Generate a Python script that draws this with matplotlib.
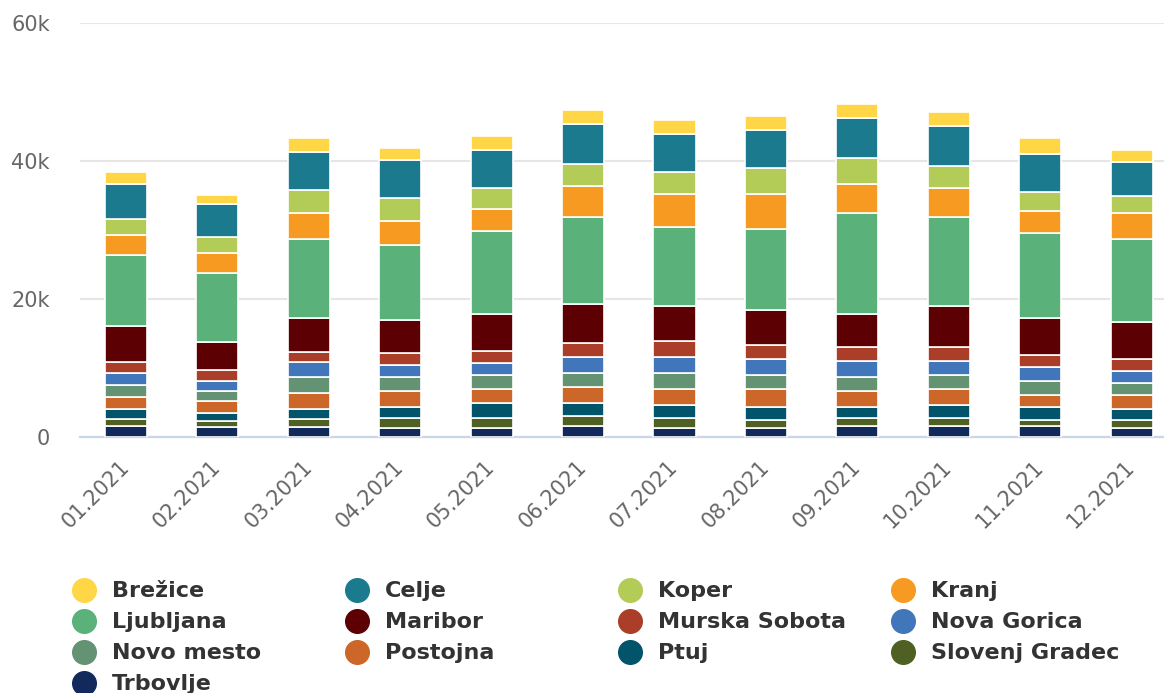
import numpy as np
import matplotlib
matplotlib.use('Agg')
import matplotlib.pyplot as plt
import matplotlib.transforms as mtransforms

# months on the x axis
months = ['01.2021', '02.2021', '03.2021', '04.2021', '05.2021', '06.2021',
          '07.2021', '08.2021', '09.2021', '10.2021', '11.2021', '12.2021']

# series values, stacked bottom -> top
trbovlje = [1600, 1360, 1360, 1310, 1310, 1600, 1310, 1310, 1600, 1600, 1600, 1310]
slovenj_gradec = [930, 880, 1170, 1450, 1450, 1450, 1450, 1160, 1160, 1160, 870, 1160]
ptuj = [1450, 1160, 1450, 1510, 2090, 1800, 1800, 1800, 1510, 1800, 1800, 1510]
postojna = [1750, 1750, 2330, 2330, 2040, 2330, 2330, 2620, 2330, 2330, 1750, 2040]
novo_mesto = [1740, 1450, 2370, 2080, 2080, 2090, 2380, 2080, 2080, 2080, 2080, 1790]
nova_gorica = [1800, 1500, 2080, 1750, 1750, 2320, 2320, 2330, 2330, 2040, 2040, 1750]
murska_sobota = [1490, 1500, 1510, 1740, 1750, 2040, 2330, 2040, 2040, 2040, 1740, 1740]
maribor = [5240, 4130, 4950, 4760, 5330, 5630, 5050, 5040, 4750, 5920, 5340, 5340]
ljubljana = [10330, 9940, 11490, 10850, 12020, 12590, 11430, 11730, 14640, 12880, 12310, 12010]
kranj = [2970, 2950, 3780, 3490, 3200, 4420, 4710, 5000, 4130, 4130, 3200, 3790]
koper = [2320, 2380, 3250, 3300, 3010, 3250, 3200, 3830, 3820, 3200, 2670, 2380]
celje = [4950, 4660, 5570, 5530, 5530, 5860, 5620, 5570, 5860, 5910, 5570, 4990]
brezice = [1790, 1440, 2040, 1750, 2030, 2040, 2030, 2040, 2040, 2040, 2330, 1750]

stack = [
    ('Trbovlje', trbovlje, '#112a5b'),
    ('Slovenj Gradec', slovenj_gradec, '#4e6123'),
    ('Ptuj', ptuj, '#02546a'),
    ('Postojna', postojna, '#cc6629'),
    ('Novo mesto', novo_mesto, '#639373'),
    ('Nova Gorica', nova_gorica, '#4176bb'),
    ('Murska Sobota', murska_sobota, '#aa3e28'),
    ('Maribor', maribor, '#5c0004'),
    ('Ljubljana', ljubljana, '#5ab179'),
    ('Kranj', kranj, '#f69a21'),
    ('Koper', koper, '#b2cc57'),
    ('Celje', celje, '#1b7a8e'),
    ('Brežice', brezice, '#ffd645'),
]

W, H = 1164, 693
fig = plt.figure(figsize=(W / 100, H / 100), dpi=100)
ax = fig.add_axes([0.069, 0.3698, 0.9424, 0.5974])

x = np.arange(len(months))
bottom = np.zeros(len(months))
for name, vals, col in stack:
    ax.bar(x, vals, width=0.46, bottom=bottom, color=col,
           edgecolor='white', linewidth=1.2, zorder=3)
    bottom += np.array(vals)

ax.set_xlim(-0.5, len(months) - 0.5)
ax.set_ylim(0, 60000)
ax.set_yticks([0, 20000, 40000, 60000])
ax.set_yticklabels(['0', '20k', '40k', '60k'])
ax.yaxis.grid(True, color='#e6e6e6', linewidth=1.5, zorder=0)
ax.set_axisbelow(True)
for s in ['top', 'right', 'left']:
    ax.spines[s].set_visible(False)
ax.spines['bottom'].set_color('#ccd6eb')
ax.spines['bottom'].set_linewidth(1.6)
ax.tick_params(axis='y', length=0, pad=22, labelsize=15, labelcolor='#666666')
ax.tick_params(axis='x', length=0, pad=8, labelsize=15, labelcolor='#666666')
ax.set_xticks(x)
ax.set_xticklabels(months, rotation=45, ha='right', rotation_mode='anchor')
shift = mtransforms.ScaledTranslation(-7 / 100, -9 / 100, fig.dpi_scale_trans)
for lbl in ax.get_xticklabels():
    lbl.set_transform(lbl.get_transform() + shift)

# legend, alphabetical, 4 columns with fixed spacing (drawn by hand)
legend_order = ['Brežice', 'Celje', 'Koper', 'Kranj', 'Ljubljana', 'Maribor',
                'Murska Sobota', 'Nova Gorica', 'Novo mesto', 'Postojna', 'Ptuj',
                'Slovenj Gradec', 'Trbovlje']
colors = {n: c for n, _, c in stack}
for i, name in enumerate(legend_order):
    r, c = divmod(i, 4)
    px = 84 + 273 * c
    py = 590 + 31 * r
    fig.lines.append(plt.Line2D([px / W], [1 - py / H], transform=fig.transFigure,
                                marker='o', markersize=17, linestyle='none',
                                markerfacecolor=colors[name], markeredgecolor=colors[name]))
    fig.text((px + 28) / W, 1 - (py + 1) / H, name, fontsize=16, fontweight='bold',
             color='#333333', ha='left', va='center')

plt.savefig('out.png', dpi=100)
